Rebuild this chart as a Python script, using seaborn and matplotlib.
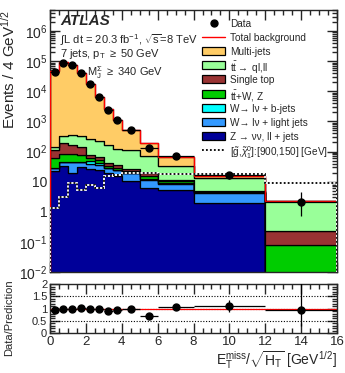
import numpy as np
import pandas as pd
import matplotlib
matplotlib.use("Agg")
import matplotlib.pyplot as plt
import seaborn as sns
from matplotlib.patches import Rectangle
from matplotlib.lines import Line2D
from matplotlib.ticker import MultipleLocator, LogLocator, NullFormatter, FuncFormatter

# binning in Etmiss/sqrt(HT)
edges = [0, 0.5, 1, 1.5, 2, 2.5, 3, 3.5, 4, 5, 6, 8, 12, 16]
centers = [0.25, 0.75, 1.25, 1.75, 2.25, 2.75, 3.25, 3.75, 4.5, 5.5, 7, 10, 14]
half_width = [0.25, 0.25, 0.25, 0.25, 0.25, 0.25, 0.25, 0.25, 0.5, 0.5, 1, 2, 2]

# background processes (events per bin), read from the stack
multijet = [46760, 90560, 74640, 38880, 16930, 6270, 2500, 1025, 405, 121, 34, 1.9, 0.02]
ttbar    = [30, 150, 200, 180, 192, 164, 128, 90, 84, 53.5, 20.3, 8.1, 1.97]
singletop = [50, 110, 80, 65, 18, 12, 9, 6, 4, 4.5, 1.5, 0.3, 0.15]
ttv      = [31, 35, 35, 30, 12, 12, 4, 4, 2.5, 3, 1.5, 0.2, 0.08]
wbjets   = [1, 1, 1, 1, 8, 6, 1, 1, 0.5, 0.5, 0.3, 0.2, 0]
wlight   = [6, 12, 24, 14, 14, 12, 9, 9, 8.5, 5.3, 3.0, 2.2, 0]
zjets    = [22, 32, 20, 30, 26, 24, 19, 15, 10.5, 6.2, 5.4, 2.0, 0]

data = [45000, 90000, 75000, 40000, 17000, 6500, 2400, 1100, 500, 132, 70, 16.7, 2.1]
data_err_lo = [210, 300, 270, 200, 130, 80, 50, 33, 22, 11, 8, 4, 1.4]
data_err_hi = [210, 300, 270, 200, 130, 80, 50, 33, 22, 11, 8, 4, 2.5]

signal = [1.3, 3.2, 9, 5.4, 8, 6.2, 15, 16, 20, 19, 18, 18, 9]

ratio = [0.96, 0.99, 1.0, 1.02, 0.99, 1.0, 0.9, 0.96, 0.97, 0.68, 1.06, 1.12, 0.96]
ratio_err_lo = [0.01, 0.01, 0.01, 0.01, 0.01, 0.02, 0.02, 0.03, 0.04, 0.06, 0.13, 0.24, 0.66]
ratio_err_hi = [0.01, 0.01, 0.01, 0.01, 0.01, 0.02, 0.02, 0.03, 0.04, 0.06, 0.13, 0.24, 1.2]

labels = ["Multi-jets", r"$\mathrm{t\bar{t}}\rightarrow$ ql,ll", "Single top",
          r"$\mathrm{t\bar{t}}$+W, Z", "W\u2192 l\u03bd + b-jets",
          "W\u2192 l\u03bd + light jets", "Z \u2192 \u03bd\u03bd, ll + jets"]
colors = ["#ffcc66", "#99ff99", "#993333", "#00cc00", "#00ffff", "#3399ff", "#000099"]

sns.set_style("ticks")
plt.rcParams["font.family"] = ["Liberation Sans", "DejaVu Sans"]
plt.rcParams["mathtext.fontset"] = "custom"
plt.rcParams["mathtext.rm"] = "Liberation Sans"
plt.rcParams["mathtext.it"] = "Liberation Sans:italic"
plt.rcParams["mathtext.bf"] = "Liberation Sans:bold"

W, H = 345, 373
fig = plt.figure(figsize=(3.45, 3.73), dpi=100)
ax = fig.add_axes([0.145, 0.2708, 0.832, 0.7024])
axr = fig.add_axes([0.145, 0.107, 0.832, 0.131])

# stacked backgrounds
frames = []
for lab, vals in zip(labels, [multijet, ttbar, singletop, ttv, wbjets, wlight, zjets]):
    frames.append(pd.DataFrame({"x": centers, "w": vals, "proc": lab}))
df = pd.concat(frames, ignore_index=True)

ax.set_yscale("log")
sns.histplot(data=df, x="x", weights="w", hue="proc", hue_order=labels, bins=edges,
             multiple="stack", element="step", palette=dict(zip(labels, colors)),
             alpha=1, edgecolor="black", linewidth=0.9, legend=False, ax=ax)

total = np.sum([multijet, ttbar, singletop, ttv, wbjets, wlight, zjets], axis=0)
ax.stairs(total, edges, color="red", linewidth=1.0, zorder=5)

# signal
ax.stairs(signal, edges, color="white", linewidth=1.3, zorder=6)
ax.stairs(signal, edges, color="black", linewidth=1.3, linestyle=(0, (1, 1.2)), zorder=7)

ax.errorbar(centers, data, xerr=half_width, yerr=[data_err_lo, data_err_hi], fmt="o",
            color="black", markersize=5, elinewidth=0.9, capsize=0, zorder=10)

ax.set_xlim(0, 16)
ax.set_ylim(1e-2, 5e6)
ax.set_xlabel("")
ax.set_ylabel("Events / 4 GeV$^{1/2}$", fontsize=11, loc="top", labelpad=1)
ax.yaxis.set_major_locator(LogLocator(base=10, numticks=20))
ax.yaxis.set_minor_locator(LogLocator(base=10, subs=np.arange(2, 10), numticks=20))
ax.yaxis.set_minor_formatter(NullFormatter())


def log_fmt(v, pos):
    e = int(round(np.log10(v)))
    if e == 0:
        return "1"
    if e == 1:
        return "10"
    return "$10^{%d}$" % e


ax.yaxis.set_major_formatter(FuncFormatter(log_fmt))
ax.xaxis.set_major_locator(MultipleLocator(2))
ax.xaxis.set_minor_locator(MultipleLocator(0.5))
ax.tick_params(axis="x", labelbottom=False)
for a in (ax, axr):
    a.tick_params(which="both", direction="in", top=True, right=True, width=1)
    a.tick_params(which="major", length=7)
    a.tick_params(which="minor", length=3.5)
    for s in a.spines.values():
        s.set_linewidth(1)
ax.tick_params(axis="y", labelsize=10, pad=2)

# text
fig.text(60 / W, 1 - 21 / H, "ATLAS", fontsize=11, fontweight="bold", style="italic",
         va="center")
fig.text(60 / W, 1 - 40 / H, r"$\int$L dt = 20.3 fb$^{-1}$, $\sqrt{\mathrm{s}}$=8 TeV",
         fontsize=8, va="center")
fig.text(60 / W, 1 - 54 / H, r"7 jets, p$_\mathrm{T}$ $\geq$ 50 GeV", fontsize=8, va="center")
fig.text(87 / W, 1 - 73 / H, r"M$_\mathrm{J}^\Sigma$ $\geq$ 340 GeV", fontsize=8, va="center")

# legend, one row every 14 px
leg_labels = ["Data", "Total background"] + labels + \
    [r"[$\tilde{\mathrm{g}}$,$\tilde{\chi}_1^0$]:[900,150] [GeV]"]
x0, x1, xt = 202 / W, 225 / W, 230 / W
for i, lab in enumerate(leg_labels):
    yc = 1 - (23 + i * 14.1) / H
    if i == 0:
        fig.add_artist(Line2D([(x0 + x1) / 2], [yc], marker="o", color="black",
                              markersize=5, transform=fig.transFigure))
    elif i == 1:
        fig.add_artist(Line2D([x0, x1], [yc, yc], color="red", linewidth=1,
                              transform=fig.transFigure))
    elif i == len(leg_labels) - 1:
        fig.add_artist(Line2D([x0, x1], [yc, yc], color="black", linewidth=1.3,
                              linestyle=(0, (1, 1.2)), transform=fig.transFigure))
    else:
        fig.add_artist(Rectangle((x0, yc - 4 / H), x1 - x0, 8 / H, facecolor=colors[i - 2],
                                 edgecolor="black", linewidth=0.9, transform=fig.transFigure))
    fig.text(xt, yc, lab, fontsize=7.2, va="center_baseline")

# ratio panel
for yv in (0.5, 1.0, 1.5):
    axr.axhline(yv, color="black", linestyle=(0, (1, 1.5)), linewidth=0.8)
axr.axhline(1.0, color="red", linewidth=0.9)
axr.errorbar(centers, ratio, xerr=half_width, yerr=[ratio_err_lo, ratio_err_hi], fmt="o",
             color="black", markersize=5, elinewidth=0.9, capsize=0, zorder=10)
axr.set_xlim(0, 16)
axr.set_ylim(0, 2)
axr.yaxis.set_major_locator(MultipleLocator(0.5))
axr.yaxis.set_minor_locator(MultipleLocator(0.1))
axr.yaxis.set_major_formatter(FuncFormatter(lambda v, p: "%g" % v))
axr.xaxis.set_major_locator(MultipleLocator(2))
axr.xaxis.set_minor_locator(MultipleLocator(0.5))
axr.tick_params(axis="y", labelsize=8, pad=2)
axr.tick_params(axis="x", labelsize=9.5, pad=2)
axr.set_ylabel("Data/Prediction", fontsize=8)
axr.yaxis.set_label_coords(-0.125, 0.31)
axr.set_xlabel(r"E$_\mathrm{T}^\mathrm{miss}$/$\sqrt{\mathrm{H_T}}$ [GeV$^{1/2}$]",
               fontsize=10, loc="right", labelpad=1)

fig.savefig("out.png", dpi=100)
